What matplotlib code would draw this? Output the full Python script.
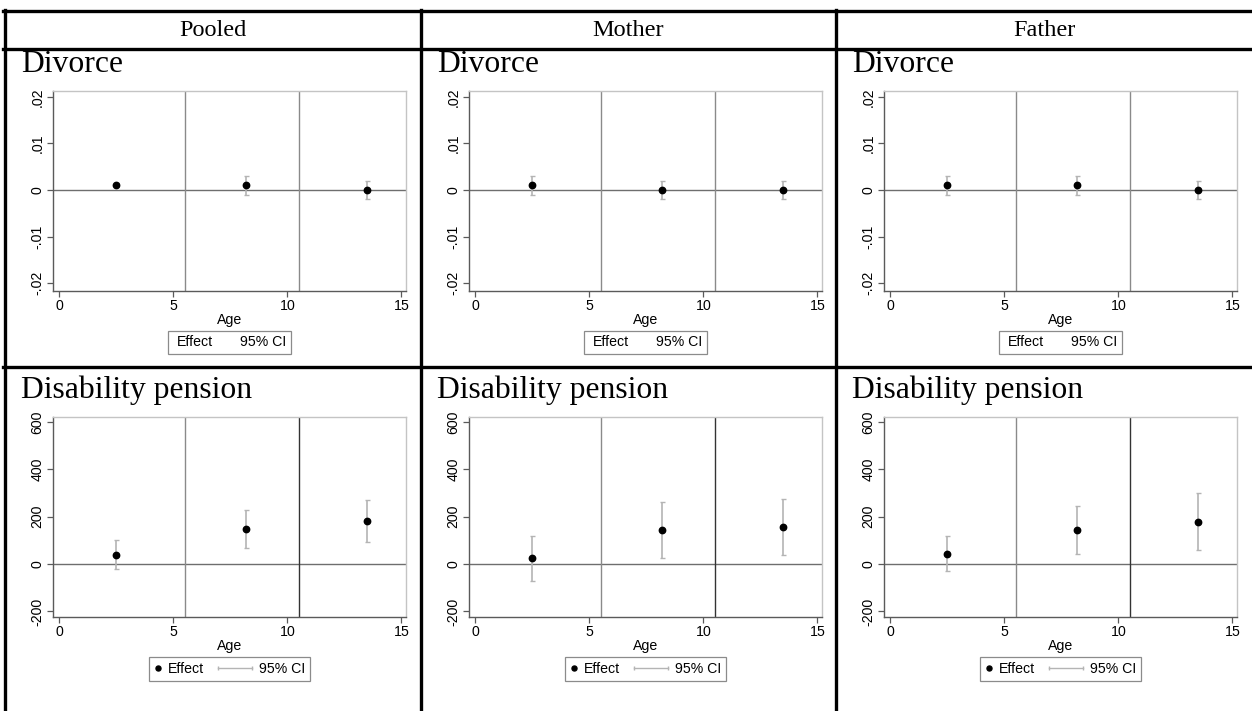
import numpy as np
import matplotlib
matplotlib.use("Agg")
import matplotlib.pyplot as plt
from matplotlib.lines import Line2D
from matplotlib.legend_handler import HandlerBase

# Data
ages = [2.5, 8.2, 13.5]
groups = ["Pooled", "Mother", "Father"]

div_pooled = [0.001, 0.001, 0.0]
div_pooled_lo = [0.0006, -0.001, -0.002]
div_pooled_hi = [0.0014, 0.003, 0.002]
div_mother = [0.001, 0.0, 0.0]
div_mother_lo = [-0.001, -0.002, -0.002]
div_mother_hi = [0.003, 0.002, 0.002]
div_father = [0.001, 0.001, 0.0]
div_father_lo = [-0.001, -0.001, -0.002]
div_father_hi = [0.003, 0.003, 0.002]

dis_pooled = [39, 148, 180]
dis_pooled_lo = [-21, 66, 93]
dis_pooled_hi = [100, 228, 269]
dis_mother = [24, 142, 157]
dis_mother_lo = [-70, 24, 38]
dis_mother_hi = [120, 262, 274]
dis_father = [42, 144, 179]
dis_father_lo = [-31, 42, 60]
dis_father_hi = [120, 245, 299]

div_ticks = [-0.02, -0.01, 0, 0.01, 0.02]
div_ticklabels = ["-.02", "-.01", "0", ".01", ".02"]
dis_ticks = [-200, 0, 200, 400, 600]
dis_ticklabels = ["-200", "0", "200", "400", "600"]
x_ticks = [0, 5, 10, 15]

W, H = 1252, 711
fig = plt.figure(figsize=(W / 100, H / 100), dpi=100)
fig.patch.set_facecolor("white")


def fx(px):
    return px / W


def fy(py):
    return 1 - py / H


serif = "Liberation Serif"
sans = "Liberation Sans"
ci_color = "#b4b4b4"
frame_light = "#c4c4c4"
axis_dark = "#5a5a5a"


# legend keys: a dot, and a capped grey line that reaches back to the left
class DotHandler(HandlerBase):
    def create_artists(self, legend, orig_handle, xdescent, ydescent,
                       width, height, fontsize, trans):
        dot = Line2D([width / 2 - xdescent], [height / 2 - ydescent],
                     marker="o", ms=3.6, color="black", ls="none",
                     transform=trans)
        return [dot]


class CapLineHandler(HandlerBase):
    def create_artists(self, legend, orig_handle, xdescent, ydescent,
                       width, height, fontsize, trans):
        x1 = width - xdescent
        x0 = x1 - 34 * 72 / 100  # about 34 px long
        y = height / 2 - ydescent
        ln = Line2D([x0, x1], [y, y], color=ci_color, lw=1.0,
                    marker="|", ms=3.5, mew=1.0, transform=trans)
        return [ln]


# table lines
lw_tab = 2.4
for y in [11, 49, 367]:
    fig.add_artist(Line2D([fx(3), 1], [fy(y), fy(y)], color="black", lw=lw_tab))
for x in [5, 421, 836]:
    fig.add_artist(Line2D([fx(x), fx(x)], [fy(10), 0], color="black", lw=lw_tab))

cell_left = [5, 421, 836]
for i, g in enumerate(groups):
    center = (cell_left[i] + (cell_left[i + 1] if i < 2 else 1252)) / 2
    fig.text(fx(center), fy(30), g, family=serif, fontsize=17.5,
             ha="center", va="center")

panels = [
    ("Divorce", [(div_pooled, div_pooled_lo, div_pooled_hi),
                 (div_mother, div_mother_lo, div_mother_hi),
                 (div_father, div_father_lo, div_father_hi)],
     (-0.0216, 0.0213), div_ticks, div_ticklabels, 90.7, False),
    ("Disability pension", [(dis_pooled, dis_pooled_lo, dis_pooled_hi),
                            (dis_mother, dis_mother_lo, dis_mother_hi),
                            (dis_father, dis_father_lo, dis_father_hi)],
     (-222, 622), dis_ticks, dis_ticklabels, 416.7, True),
]

for title, series, ylim, yt, ytl, top, keys in panels:
    for i in range(3):
        left = cell_left[i] + 48
        fig.text(fx(cell_left[i] + 16), fy(top - 18.5), title, family=serif,
                 fontsize=22.8, ha="left", va="baseline")
        ax = fig.add_axes([fx(left), fy(top + 200), fx(353), 200 / H])
        est, lo, hi = series[i]
        est = np.array(est)
        err = [est - np.array(lo), np.array(hi) - est]

        ax.axhline(0, color="#6e6e6e", lw=1.0, zorder=1)
        ax.axvline(5.5, color="#8a8a8a", lw=1.0, zorder=1)
        ax.axvline(10.5, color="#333333" if keys else "#8a8a8a", lw=1.0, zorder=1)

        ax.errorbar(ages, est, yerr=err, fmt="none", ecolor=ci_color,
                    elinewidth=1.2, capsize=1.8, capthick=1.0, zorder=2)
        ax.plot(ages, est, "o", color="black", ms=4.6, zorder=3)

        ax.set_xlim(-0.27, 15.2)
        ax.set_ylim(*ylim)
        ax.set_xticks(x_ticks)
        ax.set_xticklabels([str(t) for t in x_ticks], family=sans, fontsize=10.2)
        ax.set_yticks(yt)
        ax.set_yticklabels(ytl, family=sans, fontsize=10.2, rotation=90, va="center")
        ax.tick_params(length=4, width=0.9, color=axis_dark, pad=2)
        ax.set_xlabel("Age", family=sans, fontsize=10.2, labelpad=0)

        for s in ["top", "right"]:
            ax.spines[s].set_color(frame_light)
            ax.spines[s].set_linewidth(1.0)
        for s in ["left", "bottom"]:
            ax.spines[s].set_color(axis_dark)
            ax.spines[s].set_linewidth(1.0)

        if keys:
            h1 = Line2D([], [], marker="o", color="black", ls="none")
            h2 = Line2D([], [], color=ci_color)
            leg = ax.legend([h1, h2], ["Effect", "95% CI"], ncol=2,
                            loc="upper center", bbox_to_anchor=(0.5, -0.202),
                            borderaxespad=0,
                            handler_map={h1: DotHandler(), h2: CapLineHandler()},
                            frameon=True, fancybox=False, edgecolor="#6e6e6e",
                            prop={"family": sans, "size": 10.2},
                            handlelength=0.5, handletextpad=0.45,
                            columnspacing=2.95, borderpad=0.35)
        else:
            h = Line2D([], [], ls="none")
            leg = ax.legend([h, h], ["Effect", "95% CI"], ncol=2,
                            loc="upper center", bbox_to_anchor=(0.5, -0.202),
                            borderaxespad=0,
                            frameon=True, fancybox=False, edgecolor="#6e6e6e",
                            prop={"family": sans, "size": 10.2},
                            handlelength=0, handletextpad=0.3,
                            columnspacing=1.6, borderpad=0.3)
        leg.get_frame().set_linewidth(0.9)

fig.savefig("out.png", dpi=100)
